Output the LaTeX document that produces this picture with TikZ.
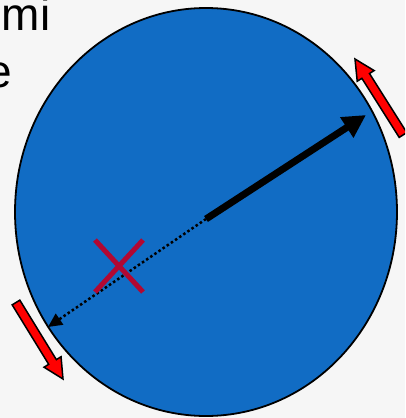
\documentclass[tikz,border=0pt]{standalone}
\usepackage{fontspec}
\setmainfont{Liberation Sans}
\usetikzlibrary{arrows.meta,calc,shapes.geometric}
\definecolor{discblue}{RGB}{17,108,196}
\definecolor{xred}{RGB}{178,8,50}
\definecolor{bgpale}{RGB}{246,246,246}
\tikzset{
  redblock/.style={draw=black, fill=red, line width=1.5pt, line join=miter},
  slidetext/.style={font=\fontsize{46}{55}\selectfont, anchor=base east, inner sep=0pt},
  crossline/.style={draw=xred, line width=5pt},
}
% block arrow from #1 (tail) to #2 (tip)
\newcommand\blockarr[2]{%
  \coordinate (#1h) at ($(#2)!20pt!(#1)$);
  \draw[redblock]
    ($(#1)!4.5pt!90:(#2)$) -- ($(#1h)!4.5pt!90:(#2)$) -- ($(#1h)!10pt!90:(#2)$) --
    (#2) -- ($(#1h)!10pt!-90:(#2)$) -- ($(#1h)!4.5pt!-90:(#2)$) --
    ($(#1)!4.5pt!-90:(#2)$) -- cycle;
}
\begin{document}
\begin{tikzpicture}[x=1pt,y=-1pt]
\useasboundingbox (0,0) rectangle (405,418);
\clip (0,0) rectangle (405,418);
\fill[bgpale] (0,0) rectangle (405,418);
\node[slidetext] (t1) at (50.5,30) {mi};
\node[slidetext] (t2) at (12,87) {e};
\node[ellipse, draw=black, fill=discblue, line width=1.8pt, inner sep=0pt,
      minimum width=382pt, minimum height=408pt] (disc) at (206,212) {};
\coordinate (ctr) at (206,219);
\coordinate (rtip) at (366,115);
\coordinate (ltip) at (48,327);
\draw[line width=7pt, -{Triangle[length=23pt,width=23pt]}] (ctr) -- (rtip);
\draw[line width=2.5pt, dash pattern=on 2.5pt off 2.5pt,
      -{Triangle[length=14pt,width=13pt]}] (ctr) -- (ltip);
\coordinate (x1) at (95,240);
\coordinate (x2) at (143,292);
\coordinate (x3) at (143,240);
\coordinate (x4) at (95,292);
\draw[crossline] (x1) -- (x2) (x3) -- (x4);
\coordinate (ra) at (403,135);
\coordinate (rb) at (355,59);
\coordinate (la) at (16,302.5);
\coordinate (lb) at (63,379);
\blockarr{ra}{rb}
\blockarr{la}{lb}
\end{tikzpicture}
\end{document}
